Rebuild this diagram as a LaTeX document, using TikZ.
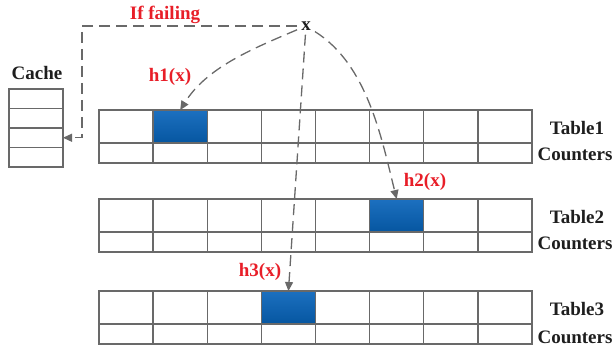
\documentclass[tikz,border=0pt]{standalone}
\usepackage{fontspec}
\setmainfont{Liberation Serif}
\usetikzlibrary{arrows.meta}
\definecolor{gridgray}{RGB}{105,105,105}
\definecolor{blueTop}{RGB}{28,112,192}
\definecolor{blueBot}{RGB}{6,86,160}
\definecolor{hashred}{RGB}{232,30,40}
\definecolor{ink}{RGB}{30,30,30}
\tikzset{
  cell/.style={draw=gridgray, line width=1.4pt, fill=white, inner sep=0pt, outer sep=0pt,
               minimum width=54.125pt, anchor=north west},
  bigcell/.style={cell, minimum height=33pt},
  smallcell/.style={cell, minimum height=20pt},
  cachecell/.style={cell, minimum width=54pt, minimum height=19.5pt},
  hot/.style={bigcell, top color=blueTop, bottom color=blueBot},
  lbl/.style={font=\fontsize{19}{22}\selectfont\bfseries, text=ink, inner sep=1pt},
  redlbl/.style={font=\fontsize{19}{22}\selectfont\bfseries, text=hashred, inner sep=1pt},
  dasharrow/.style={draw=gridgray, line width=1.3pt, dash pattern=on 11pt off 6pt,
                    -{Triangle[length=9pt,width=8pt]}, fill=none},
}
\begin{document}
\begin{tikzpicture}[x=1pt,y=1pt]
\useasboundingbox (0,0) rectangle (616,-348);

% three hash tables, each a row of buckets above a row of counters
\foreach \t/\y in {1/110,2/199,3/291}{
  \foreach \i in {1,...,8}{
    \node[bigcell] (t\t c\i) at ({99+(\i-1)*54.125},-\y) {};
    \node[smallcell] (t\t s\i) at ({99+(\i-1)*54.125},-\y-33) {};
  }
}
% occupied buckets
\node[hot] (b1) at (t1c2.north west) {};
\node[hot] (b2) at (t2c6.north west) {};
\node[hot] (b3) at (t3c4.north west) {};

% table captions
\node[lbl] (tab1) at (577,-128) {Table1};
\node[lbl] (cnt1) at (575,-154) {Counters};
\node[lbl] (tab2) at (577,-217) {Table2};
\node[lbl] (cnt2) at (575,-243) {Counters};
\node[lbl] (tab3) at (577,-309) {Table3};
\node[lbl] (cnt3) at (575,-337) {Counters};

% cache
\node[lbl] (cachelbl) at (37,-73) {Cache};
\foreach \j in {1,...,4}{
  \node[cachecell] (cache\j) at (9,{-89-(\j-1)*19.5}) {};
}

% key and its hash functions
\node[lbl, inner sep=4pt] (x) at (306,-26) {x};
\node[redlbl] (h1) at (170,-77) {h1(x)};
\node[redlbl] (h2) at (425,-182) {h2(x)};
\node[redlbl] (h3) at (260,-272) {h3(x)};
\node[redlbl] (fail) at (165,-15) {If failing};

\draw[dasharrow] (x) to[out=203, in=58, looseness=0.9] (b1.north);
\draw[dasharrow] (x) to[out=-32, in=104, looseness=0.85] (b2.north);
\draw[dasharrow] (x) -- (b3.north);

% fallback into the cache
\coordinate (turn) at (82,-26);
\draw[dasharrow] (x.west) -- (turn) |- (cache3.east);
\end{tikzpicture}
\end{document}
